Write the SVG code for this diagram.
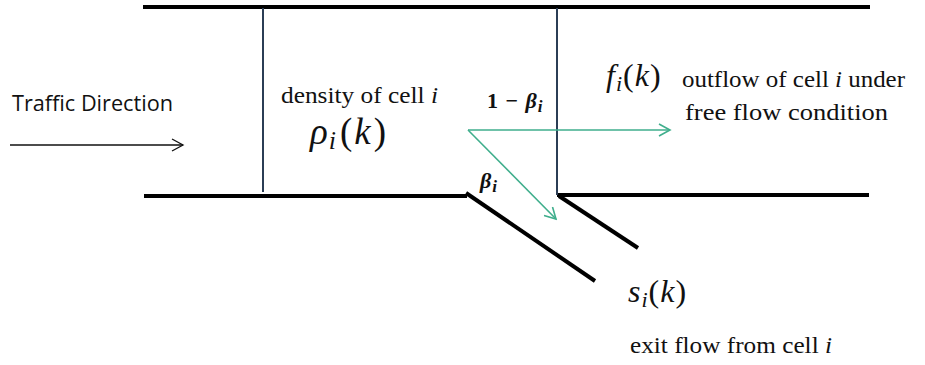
<svg xmlns="http://www.w3.org/2000/svg" width="925" height="365" viewBox="0 0 925 365">
<defs>
<style>
.road{stroke:#000;stroke-width:4;fill:none;stroke-linecap:butt}
.cellb{stroke:#2b3d55;stroke-width:2;fill:none}
.flow{stroke:#3fae8c;stroke-width:1.6;fill:none}
.lbl{font-family:"Liberation Serif",serif;fill:#111}
.sans{font-family:"Open Sans","Liberation Sans",sans-serif;fill:#111}
.it{font-style:italic}
</style>
<marker id="ga" markerWidth="14" markerHeight="14" refX="12" refY="7" orient="auto" markerUnits="userSpaceOnUse">
<path d="M1,1 L12,7 L1,13" fill="none" stroke="#3fae8c" stroke-width="1.6"/>
</marker>
<marker id="ba" markerWidth="14" markerHeight="14" refX="12" refY="7" orient="auto" markerUnits="userSpaceOnUse">
<path d="M1,1 L12,7 L1,13" fill="none" stroke="#111" stroke-width="1.3"/>
</marker>
</defs>
<rect width="925" height="365" fill="#fff"/>
<g id="road">
<line class="road" x1="143" y1="7" x2="870" y2="7"/>
<line class="road" x1="144" y1="196" x2="467" y2="196"/>
<line class="road" x1="557" y1="195" x2="869" y2="195"/>
<line class="road" stroke-width="3" x1="466" y1="193" x2="595" y2="281"/>
<line class="road" stroke-width="3" x1="559" y1="196" x2="638" y2="248"/>
</g>
<g id="cell-boundaries">
<line class="cellb" x1="263" y1="8" x2="263" y2="192"/>
<line class="cellb" x1="557" y1="8" x2="557" y2="195"/>
</g>
<g id="connectors">
<line class="flow" x1="468" y1="130" x2="670" y2="130" marker-end="url(#ga)"/>
<line class="flow" x1="468" y1="130" x2="556" y2="219" marker-end="url(#ga)"/>
<line x1="10" y1="145" x2="183" y2="145" stroke="#111" stroke-width="1.3" marker-end="url(#ba)"/>
</g>
<g id="traffic-label">
<text class="sans" x="12" y="111" font-size="21" textLength="161" lengthAdjust="spacingAndGlyphs">Traffic Direction</text>
</g>
<g id="cell-i">
<text class="lbl" x="281" y="103" font-size="23" textLength="157" lengthAdjust="spacingAndGlyphs">density of cell <tspan class="it">i</tspan></text>
<text class="lbl" x="310" y="144" font-size="37"><tspan class="it">ρ</tspan><tspan class="it" font-size="26" dy="5" dx="1">i</tspan><tspan dx="4" dy="-5">(</tspan><tspan class="it" dx="2">k</tspan><tspan dx="3">)</tspan></text>
</g>
<g id="split-labels">
<text class="lbl" x="487" y="108" font-size="22" font-weight="bold">1 <tspan dx="2">−</tspan> <tspan class="it" dx="2">β</tspan><tspan class="it" font-size="17" dy="4" dx="1">i</tspan></text>
<text class="lbl" x="480" y="188" font-size="22" font-weight="bold"><tspan class="it">β</tspan><tspan class="it" font-size="17" dy="4" dx="1">i</tspan></text>
</g>
<g id="outflow">
<text class="lbl" x="606" y="86" font-size="32"><tspan class="it">f</tspan><tspan class="it" font-size="22" dy="5" dx="1">i</tspan><tspan dx="1" dy="-5">(</tspan><tspan class="it" dx="1">k</tspan><tspan dx="1">)</tspan></text>
<text class="lbl" x="682" y="87" font-size="23" textLength="223" lengthAdjust="spacingAndGlyphs">outflow of cell <tspan class="it">i</tspan> under</text>
<text class="lbl" x="685" y="120" font-size="23" textLength="203" lengthAdjust="spacingAndGlyphs">free flow condition</text>
</g>
<g id="exit">
<text class="lbl" x="628" y="302" font-size="32"><tspan class="it">s</tspan><tspan class="it" font-size="22" dy="5" dx="1">i</tspan><tspan dx="1" dy="-5">(</tspan><tspan class="it" dx="1">k</tspan><tspan dx="1">)</tspan></text>
<text class="lbl" x="630" y="353" font-size="23" textLength="202" lengthAdjust="spacingAndGlyphs">exit flow from cell <tspan class="it">i</tspan></text>
</g>
</svg>
